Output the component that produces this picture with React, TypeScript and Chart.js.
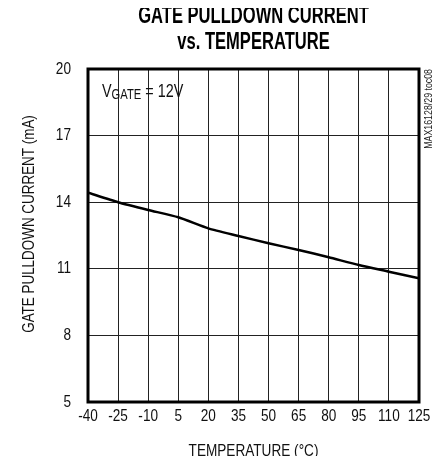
import React, { useEffect, useRef } from "react";
import { Chart, registerables } from "chart.js";

Chart.register(...registerables);

const temperatures = [-40, -25, -10, 5, 20, 35, 50, 65, 80, 95, 110, 125];
const pulldownCurrent = [14.43, 14.0, 13.65, 13.32, 12.82, 12.48, 12.15, 11.85, 11.52, 11.17, 10.87, 10.57];
const xTicks = [-40, -25, -10, 5, 20, 35, 50, 65, 80, 95, 110, 125];
const yTicks = [5, 8, 11, 14, 17, 20];

const titleLines = ["GATE PULLDOWN CURRENT", "vs. TEMPERATURE"];
const xTitle = "TEMPERATURE (°C)";
const yTitle = "GATE PULLDOWN CURRENT (mA)";
const sideNote = "MAX16128/29 toc08";

const FONT = "'Liberation Sans', Arial, sans-serif";
const SX = 0.8;

function txt(ctx: any, s: string, x: number, y: number, font: string, align: string, sx = SX, rot = 0) {
  ctx.save();
  ctx.font = font;
  ctx.textAlign = align;
  ctx.textBaseline = "middle";
  ctx.translate(x, y);
  if (rot) ctx.rotate(rot);
  ctx.scale(sx, 1);
  ctx.fillText(s, 0, 0);
  ctx.restore();
}

const decorPlugin = {
  id: "decor",
  afterDraw(chart: any) {
    const { ctx, chartArea, scales } = chart;
    const { left, right, top, bottom } = chartArea;
    const cx = (left + right) / 2;
    ctx.save();
    // frame
    ctx.strokeStyle = "#000";
    ctx.lineWidth = 3;
    ctx.strokeRect(left, top, right - left, bottom - top);

    ctx.fillStyle = "#000";
    // title
    txt(ctx, titleLines[0], cx, 9, `bold 23px ${FONT}`, "center", 0.72);
    txt(ctx, titleLines[1], cx, 35, `bold 23px ${FONT}`, "center", 0.72);

    ctx.fillStyle = "#111";
    // tick labels
    xTicks.forEach((v) => {
      txt(ctx, String(v), scales.x.getPixelForValue(v), 408, `17px ${FONT}`, "center");
    });
    yTicks.forEach((v) => {
      txt(ctx, String(v), left - 17, scales.y.getPixelForValue(v), `17px ${FONT}`, "right");
    });

    // x title
    txt(ctx, xTitle, cx, 443, `17px ${FONT}`, "center");
    // y title
    txt(ctx, yTitle, 21, 216, `17px ${FONT}`, "center", 0.79, -Math.PI / 2);
    // side note
    ctx.fillStyle = "#222";
    txt(ctx, sideNote, 421, top, `11px ${FONT}`, "right", 0.8, -Math.PI / 2);

    // annotation V_GATE = 12V
    ctx.fillStyle = "#111";
    let x = left + 14;
    const base = top + 23;
    ctx.save();
    ctx.font = `18px ${FONT}`;
    const wV = ctx.measureText("V").width * SX;
    ctx.font = `14px ${FONT}`;
    const wG = ctx.measureText("GATE").width * SX;
    ctx.restore();
    txt(ctx, "V", x, base, `18px ${FONT}`, "left");
    x += wV;
    txt(ctx, "GATE", x, base + 3, `14px ${FONT}`, "left");
    x += wG;
    txt(ctx, " = 12V", x, base, `18px ${FONT}`, "left");
    ctx.restore();
  },
};

export default function App() {
  const ref = useRef<HTMLCanvasElement | null>(null);
  useEffect(() => {
    if (!ref.current) return;
    const chart = new Chart(ref.current, {
      type: "line",
      data: {
        datasets: [
          {
            data: temperatures.map((t, i) => ({ x: t, y: pulldownCurrent[i] })),
            borderColor: "#000",
            borderWidth: 2.5,
            pointRadius: 0,
            tension: 0.2,
            fill: false,
          },
        ],
      },
      options: {
        animation: false,
        responsive: false,
        layout: { padding: { top: 61, right: 19, left: 0, bottom: 0 } },
        plugins: { legend: { display: false }, tooltip: { enabled: false }, title: { display: false } },
        scales: {
          x: {
            type: "linear",
            min: -40,
            max: 125,
            afterBuildTicks: (s: any) => {
              s.ticks = xTicks.map((v) => ({ value: v }));
            },
            afterFit: (s: any) => {
              s.height = 54;
            },
            ticks: { display: false },
            grid: { color: "#222", lineWidth: 1, drawTicks: false },
            border: { display: false },
          },
          y: {
            type: "linear",
            min: 5,
            max: 20,
            afterBuildTicks: (s: any) => {
              s.ticks = yTicks.map((v) => ({ value: v }));
            },
            afterFit: (s: any) => {
              s.width = 80;
            },
            ticks: { display: false },
            grid: { color: "#222", lineWidth: 1, drawTicks: false },
            border: { display: false },
          },
        },
      },
      plugins: [decorPlugin],
    } as any);
    return () => chart.destroy();
  }, []);
  return <canvas ref={ref} width={430} height={448} style={{ display: "block" }} />;
}
